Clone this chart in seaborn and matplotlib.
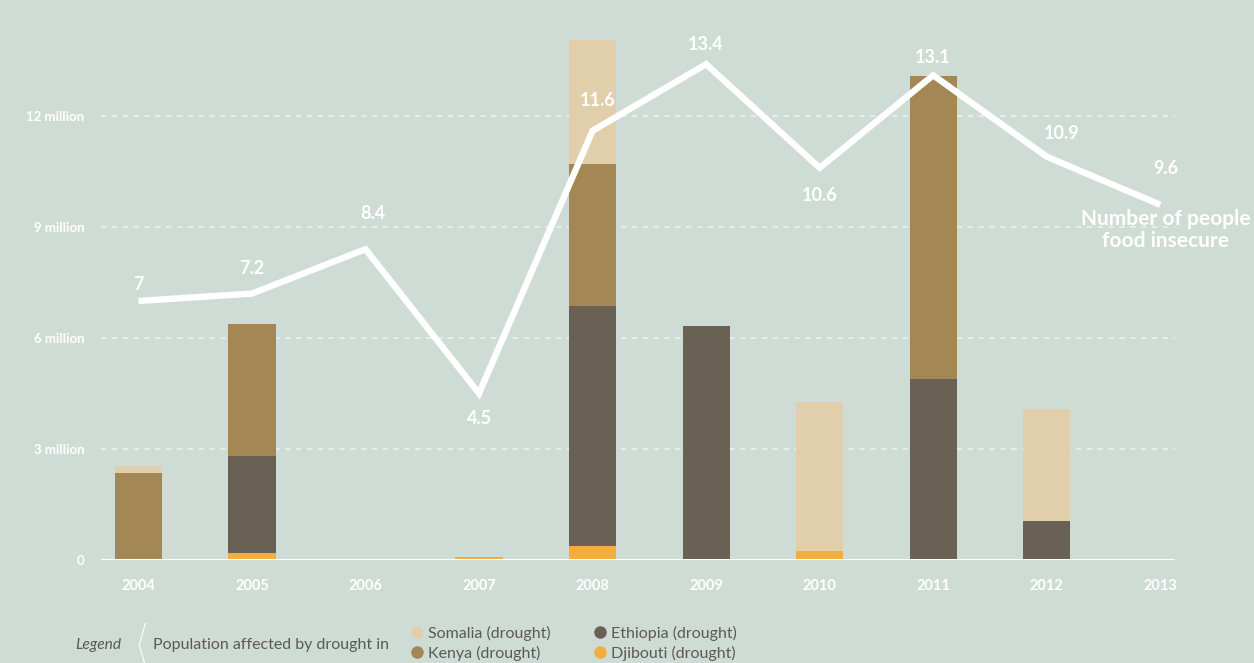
import numpy as np
import pandas as pd
import matplotlib
matplotlib.use('Agg')
import matplotlib.pyplot as plt
from matplotlib.lines import Line2D
import seaborn as sns

# data (millions)
years = ['2004', '2005', '2006', '2007', '2008', '2009', '2010', '2011', '2012', '2013']
djibouti = [0.0, 0.2, 0.0, 0.08, 0.38, 0.0, 0.24, 0.0, 0.0, 0.0]
ethiopia = [0.0, 2.6, 0.0, 0.0, 6.48, 6.32, 0.0, 4.89, 1.05, 0.0]
kenya = [2.35, 3.57, 0.0, 0.0, 3.84, 0.0, 0.0, 8.19, 0.0, 0.0]
somalia = [0.2, 0.0, 0.0, 0.0, 3.35, 0.0, 4.03, 0.0, 3.03, 0.0]
food_insecure = [7.0, 7.2, 8.4, 4.5, 11.6, 13.4, 10.6, 13.1, 10.9, 9.6]
ytick_vals = [0, 3, 6, 9, 12]
ytick_labels = ['0', '3 million', '6 million', '9 million', '12 million']

BG = '#cfdcd5'
WHITE = '#ffffff'
TXT = '#5b5a50'
colors = {'Somalia': '#e1cfab', 'Kenya': '#a38755', 'Ethiopia': '#696254', 'Djibouti': '#f3ac3f'}

sns.set_style('white')
plt.rcParams['font.family'] = ['Lato', 'DejaVu Sans']

df = pd.DataFrame({'year': years, 'Djibouti': djibouti, 'Ethiopia': ethiopia,
                   'Kenya': kenya, 'Somalia': somalia})
# cumulative heights, bottom to top: Djibouti, Ethiopia, Kenya, Somalia
layers = ['Djibouti', 'Ethiopia', 'Kenya', 'Somalia']
cum = df[layers].cumsum(axis=1)

fig = plt.figure(figsize=(12.54, 6.63), dpi=100, facecolor=BG)
ax = fig.add_axes([0.0805, 0.1554, 0.8565, 0.8092])
ax.set_facecolor(BG)

# draw stacked bars top layer first
for name in reversed(layers):
    sns.barplot(x=df['year'], y=cum[name], order=years, color=colors[name],
                width=0.415, saturation=1, linewidth=0, edgecolor='none', ax=ax, zorder=2)

xpos = np.arange(len(years))
sns.lineplot(x=xpos, y=food_insecure, color=WHITE, linewidth=4.6, ax=ax,
             zorder=4, solid_joinstyle='miter', solid_capstyle='butt')

# gridlines
for v in ytick_vals[1:]:
    ax.axhline(v, color=WHITE, alpha=0.55, linewidth=1.3, linestyle=(0, (3, 3)), zorder=1)
ax.axhline(0, color=WHITE, linewidth=2.2, zorder=3)

ax.set_xlim(-0.33, len(years) - 1 + 0.13)
ax.set_ylim(0, 14.5)
ax.set_yticks(ytick_vals)
ax.set_yticklabels(ytick_labels)
ax.set_xticks(xpos)
ax.set_xticklabels(years)
ax.tick_params(axis='y', length=0, pad=12, labelsize=9.5, labelcolor=WHITE)
ax.tick_params(axis='x', length=0, pad=14, labelsize=10.5, labelcolor=WHITE)
for lab in ax.get_xticklabels() + ax.get_yticklabels():
    lab.set_fontweight('bold')
ax.set_xlabel('')
ax.set_ylabel('')
sns.despine(ax=ax, left=True, bottom=True)

# value labels (offsets in points)
offsets = [(0, 12), (0, 18), (5, 26), (0, -18), (4, 22), (0, 14), (0, -20), (0, 13), (11, 17), (4, 26)]
for i, v in enumerate(food_insecure):
    dx, dy = offsets[i]
    ax.annotate(f'{v:g}', (xpos[i], v), xytext=(dx, dy), textcoords='offset points',
                ha='center', va='center', color=WHITE, fontsize=13, fontweight='bold', zorder=5)
ax.annotate('Number of people\nfood insecure', (xpos[-1], food_insecure[-1]), xytext=(4, -3),
            textcoords='offset points', ha='center', va='top', color=WHITE, fontsize=15,
            fontweight='bold', linespacing=1.1, annotation_clip=False)

# legend
fig.text(0.06, 0.027, 'Legend', fontstyle='italic', color=TXT, fontsize=11.2, ha='left', va='center')
fig.add_artist(Line2D([0.116, 0.111, 0.116], [0.06, 0.027, -0.005], color=WHITE, linewidth=0.8,
                      transform=fig.transFigure))
fig.text(0.122, 0.027, 'Population affected by drought in', color=TXT, fontsize=11.5, ha='left', va='center')
handles = [Line2D([], [], marker='o', linestyle='', markersize=8, color=colors[n])
           for n in ['Somalia', 'Kenya', 'Ethiopia', 'Djibouti']]
labels = ['Somalia (drought)', 'Kenya (drought)', 'Ethiopia (drought)', 'Djibouti (drought)']
leg = fig.legend(handles, labels, ncol=2, loc='center left', bbox_to_anchor=(0.32, 0.03),
                 frameon=False, fontsize=11.5, handletextpad=0.1, columnspacing=2.45,
                 labelspacing=0.3, handlelength=1.2, borderaxespad=0)
for t in leg.get_texts():
    t.set_color(TXT)

fig.savefig('out.png', dpi=100, facecolor=BG)
